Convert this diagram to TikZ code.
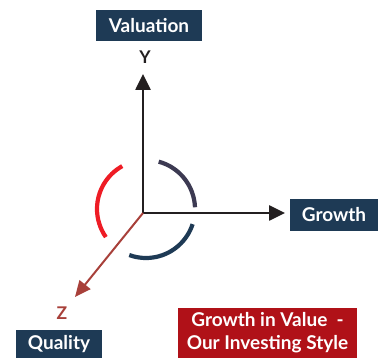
\documentclass[tikz,border=0pt]{standalone}
\usepackage{fontspec}
\setmainfont{Lato}
\usetikzlibrary{arrows.meta}
\definecolor{navy}{HTML}{1E3A55}
\definecolor{boxred}{HTML}{B01118}
\definecolor{arcred}{HTML}{EE1C25}
\definecolor{arcdark}{HTML}{3C3A52}
\definecolor{zbrown}{HTML}{A8403A}
\definecolor{axisblack}{HTML}{231F20}
\begin{document}
\begin{tikzpicture}[x=1pt,y=-1pt]
\tikzset{
  box/.style={fill=#1, text=white, font=\bfseries\fontsize{19}{23}\selectfont, inner sep=0pt, align=center},
  axis/.style={draw=axisblack, line width=2.6pt, -{Triangle[length=16pt,width=15pt]}},
  arcline/.style={line width=4.2pt},
  lbl/.style={font=\bfseries\fontsize{17.5}{19}\selectfont, inner sep=0pt}
}
\useasboundingbox (0,0) rectangle (380,358);
\node[box=navy, minimum width=106pt, minimum height=31pt] (val) at (149,25.5) {Valuation};
\node[box=navy, minimum width=88pt, minimum height=32pt] (gro) at (334,215) {Growth};
\node[box=navy, minimum width=86pt, minimum height=28pt] (qua) at (59,344) {Quality};
\node[box=boxred, minimum width=179pt, minimum height=50pt] (sty) at (267.5,333) {Growth in Value\ \ -\\Our Investing Style};
\coordinate (O) at (143,213);
\coordinate (Ytip) at (143,74);
\coordinate (Xtip) at (285,213);
\coordinate (Ztip) at (75,297);
\coordinate (C) at (146,209);
\node[lbl, text=axisblack] (ylab) at (145,57) {Y};
\node[lbl, text=zbrown] (zlab) at (62,313) {Z};
\draw[axis] (O) -- (Ytip);
\draw[axis] (O) -- (Xtip);
\draw[draw=zbrown, line width=2pt, -{Triangle[length=16pt,width=14pt]}, zbrown] (O) -- (Ztip);
\draw[arcline, arcred] (C) ++(-119:49) arc[start angle=-119, end angle=-215, radius=49];
\draw[arcline, arcdark] (C) ++(-75:49) arc[start angle=-75, end angle=-2, radius=49];
\draw[arcline, navy] (C) ++(18:49) arc[start angle=18, end angle=110, radius=49];
\end{tikzpicture}
\end{document}
